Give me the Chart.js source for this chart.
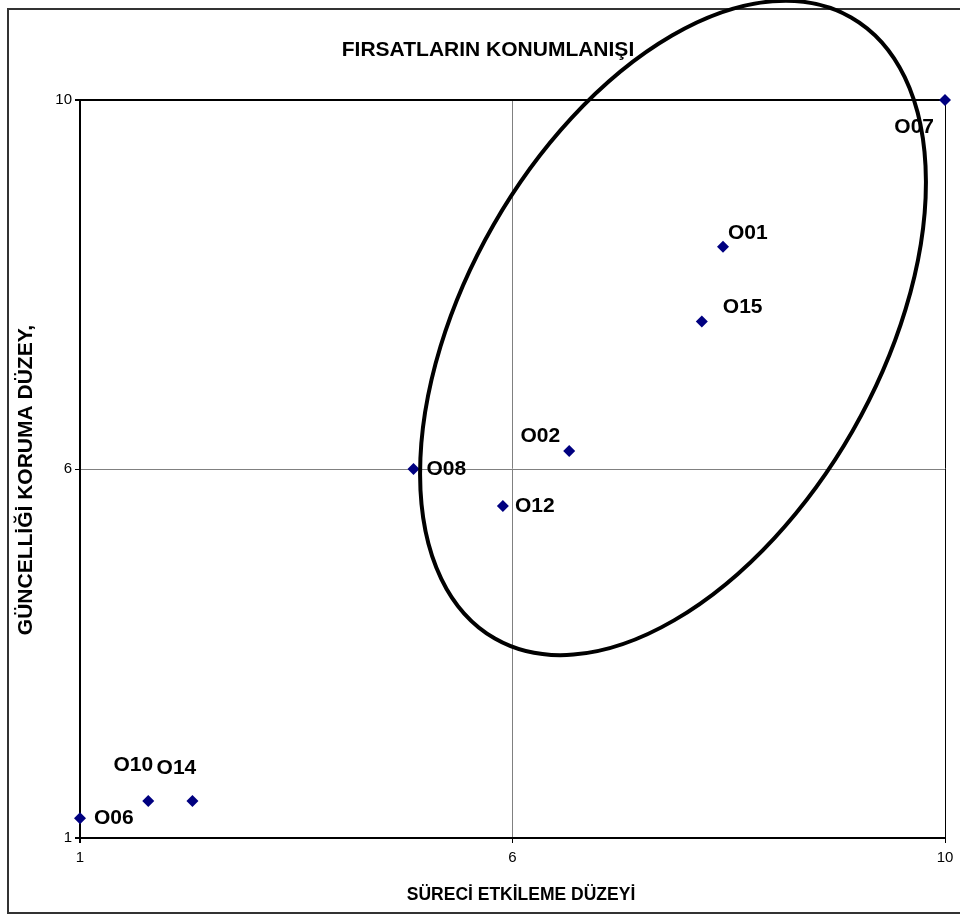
<!DOCTYPE html>
<html>
<head>
<meta charset="utf-8">
<script src="https://cdn.jsdelivr.net/npm/chart.js@4"></script>
<style>
  body { margin: 0; background: #fff; }
  canvas { display: block; }
</style>
</head>
<body>
<canvas id="chart" width="960" height="917"></canvas>
<script>
const codes = ["O01", "O02", "O07", "O08", "O12", "O15", "O10", "O14", "O06"];
const processValues = [7.69, 6.09, 10, 4.47, 5.4, 7.47, 1.71, 2.17, 1.0];
const currencyValues = [8.21, 5.72, 10, 5.5, 5.05, 7.3, 1.45, 1.45, 1.24];
// label offset from its point, in pixels: [dx, dy, align]
const labelOffsets = [
  [5, -14, "left"], [-9, -15, "right"], [-11, 27, "right"],
  [13, 0, "left"], [12, 0, "left"], [21, -14, "left"],
  [-15, -36, "center"], [-16, -33, "center"], [14, 0, "left"],
];
const tickValues = [1, 5.5, 10];
const tickLabels = ["1", "6", "10"];

const FONT = "'Liberation Sans', Arial, sans-serif";

const setTicks = (scale) => {
  scale.ticks = tickValues.map((v) => ({ value: v }));
};
const tickLabel = (value) => tickLabels[tickValues.indexOf(value)] ?? "";

const decorations = {
  id: "decorations",
  beforeDraw(chart) {
    const ctx = chart.ctx;
    ctx.save();
    ctx.strokeStyle = "#333";
    ctx.lineWidth = 2;
    ctx.strokeRect(8, 9, 980, 904);
    ctx.restore();
  },
  afterDraw(chart) {
    const ctx = chart.ctx;
    const xs = chart.scales.x, ys = chart.scales.y;
    const meta = chart.getDatasetMeta(0);
    ctx.save();
    // point labels
    ctx.fillStyle = "#000";
    ctx.font = `bold 21px ${FONT}`;
    ctx.textBaseline = "middle";
    meta.data.forEach((pt, i) => {
      const [dx, dy, align] = labelOffsets[i];
      ctx.textAlign = align;
      ctx.fillText(codes[i], pt.x + dx, pt.y + dy);
    });
    // titles
    ctx.textAlign = "center";
    ctx.font = `bold 21px ${FONT}`;
    ctx.fillText("FIRSATLARIN KONUMLANIŞI", 488, 50);
    ctx.font = `bold 17.5px ${FONT}`;
    ctx.fillText("SÜRECİ ETKİLEME DÜZEYİ", 521, 895);
    ctx.save();
    ctx.translate(26, 480);
    ctx.rotate(-Math.PI / 2);
    ctx.font = `bold 21px ${FONT}`;
    ctx.fillText("GÜNCELLİĞİ KORUMA DÜZEY,", 0, 0);
    ctx.restore();
    // grouping ellipse
    ctx.beginPath();
    ctx.lineWidth = 4;
    ctx.strokeStyle = "#000";
    ctx.ellipse(xs.getPixelForValue(7.17), ys.getPixelForValue(7.22), 358, 207, -1.05, 0, Math.PI * 2);
    ctx.stroke();
    ctx.restore();
  },
};

new Chart(document.getElementById("chart"), {
  type: "scatter",
  data: {
    datasets: [{
      data: codes.map((c, i) => ({ x: processValues[i], y: currencyValues[i] })),
      pointStyle: "rectRot",
      pointRadius: 6,
      pointBorderWidth: 0,
      backgroundColor: "#000080",
      borderColor: "#000080",
      clip: false,
    }],
  },
  options: {
    responsive: false,
    animation: false,
    layout: { padding: { top: 100, left: 8, right: 15, bottom: 4 } },
    plugins: { legend: { display: false }, tooltip: { enabled: false }, title: { display: false } },
    scales: {
      x: {
        type: "linear", min: 1, max: 10,
        afterBuildTicks: setTicks,
        afterFit: (s) => { s.height = 75; },
        border: { color: "#000", width: 2 },
        grid: {
          color: (c) => (c.index === 1 ? "#808080" : "#000"),
          lineWidth: (c) => (c.index === 1 ? 1 : c.index === 2 ? 1 : 2),
          tickColor: "#000", tickLength: 5,
        },
        ticks: { callback: tickLabel, color: "#000", font: { family: FONT, size: 15 }, padding: 6, maxRotation: 0 },
      },
      y: {
        type: "linear", min: 1, max: 10,
        afterBuildTicks: setTicks,
        afterFit: (s) => { s.width = 72; },
        border: { color: "#000", width: 2 },
        grid: {
          color: (c) => (c.index === 1 ? "#808080" : "#000"),
          lineWidth: (c) => (c.index === 1 ? 1 : 2),
          tickColor: "#000", tickLength: 5,
        },
        ticks: { callback: tickLabel, color: "#000", font: { family: FONT, size: 15 }, padding: 3 },
      },
    },
  },
  plugins: [decorations],
});
</script>
</body>
</html>
